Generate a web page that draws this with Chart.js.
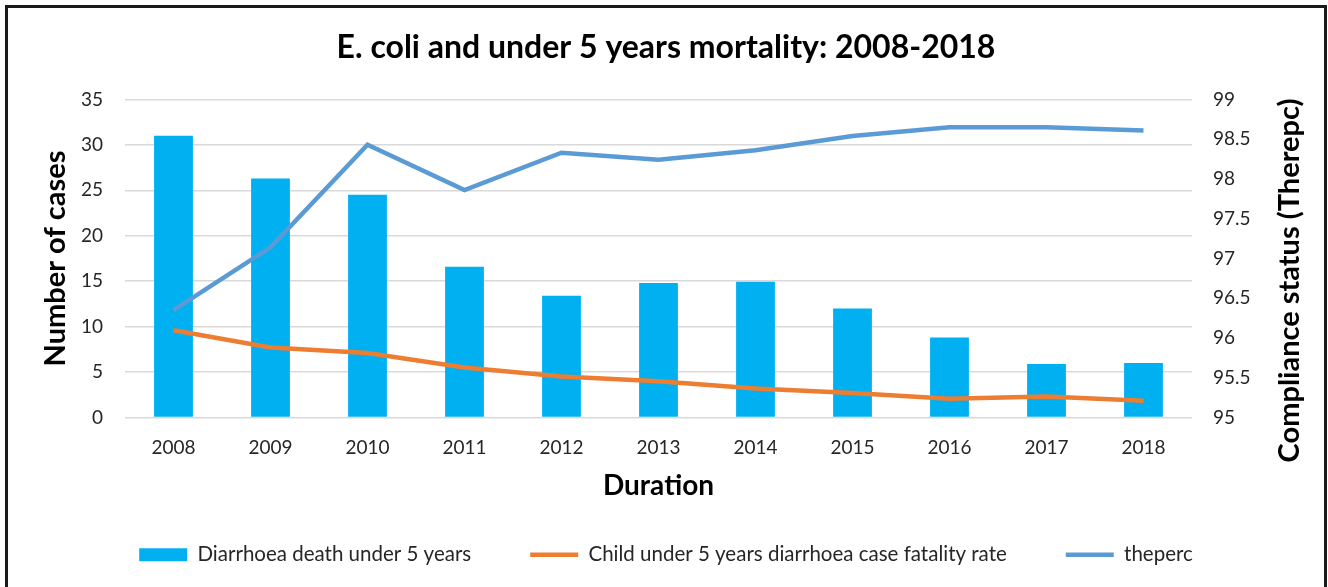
<!DOCTYPE html>
<html>
<head>
    <title>E. coli and under 5 years mortality</title>
    <style>
        body {
            margin: 0;
            background: #ffffff;
            overflow: hidden;
        }

        .frame {
            position: absolute;
            left: 5px;
            top: 5px;
            width: 1316px;
            height: 600px;
            border: 3px solid #1a1a1a;
            background: #ffffff;
        }

        #combo-chart {
            display: block;
        }
    </style>
    <script src="https://cdn.jsdelivr.net/npm/chart.js"></script>
</head>
<body>
    <div class="frame">
        <canvas id="combo-chart" width="1316" height="579"></canvas>
    </div>
    <script>
        const years = ['2008', '2009', '2010', '2011', '2012', '2013', '2014', '2015', '2016', '2017', '2018'];
        const deaths = [31.0, 26.3, 24.5, 16.6, 13.4, 14.8, 14.95, 12.0, 8.8, 5.9, 6.0];
        const fatalityRate = [9.6, 7.7, 7.1, 5.5, 4.5, 4.0, 3.2, 2.7, 2.05, 2.3, 1.85];
        const theperc = [96.35, 97.14, 98.43, 97.86, 98.33, 98.24, 98.36, 98.54, 98.65, 98.65, 98.61];

        const font = "'Lato', 'Open Sans', sans-serif";
        const legendStyles = ['rect', 'line', 'line'];
        const rightTitle = 'Compliance status (Therepc)';

        // right axis title reads bottom-to-top in the original, so draw it ourselves
        const rightTitlePlugin = {
            id: 'rightTitle',
            afterDraw: function(chart) {
                var c = chart.ctx;
                var area = chart.chartArea;
                c.save();
                c.translate(1282, (area.top + area.bottom) / 2 + 22);
                c.rotate(-Math.PI / 2);
                c.textAlign = 'center';
                c.textBaseline = 'middle';
                c.fillStyle = '#000';
                c.font = "bold 29px " + font;
                c.fillText(rightTitle, 0, 0);
                c.restore();
            }
        };

        var ctx = document.getElementById('combo-chart').getContext('2d');
        var chart = new Chart(ctx, {
            type: 'bar',
            data: {
                labels: years,
                datasets: [{
                    label: 'Diarrhoea death under 5 years',
                    data: deaths,
                    backgroundColor: '#00b0f0',
                    borderWidth: 0,
                    barPercentage: 0.4,
                    categoryPercentage: 1,
                    yAxisID: 'y',
                    order: 3
                }, {
                    type: 'line',
                    label: 'Child under 5 years diarrhoea case fatality rate',
                    data: fatalityRate,
                    borderColor: '#ed7d31',
                    backgroundColor: '#ed7d31',
                    borderWidth: 4.5,
                    pointRadius: 0,
                    tension: 0,
                    yAxisID: 'y',
                    order: 2
                }, {
                    type: 'line',
                    label: 'theperc',
                    data: theperc,
                    borderColor: '#5b9bd5',
                    backgroundColor: '#5b9bd5',
                    borderWidth: 4.5,
                    pointRadius: 0,
                    tension: 0,
                    yAxisID: 'y1',
                    order: 1
                }]
            },
            options: {
                responsive: false,
                animation: false,
                layout: {
                    padding: { left: 0, right: 0, top: 0, bottom: 12 }
                },
                scales: {
                    x: {
                        afterFit: function(scale) { scale.height = 68; },
                        grid: { display: false, drawTicks: false },
                        border: { display: false },
                        ticks: { color: '#262626', font: { family: font, size: 19 }, padding: 19 },
                        title: {
                            display: true,
                            text: 'Duration',
                            color: '#000',
                            font: { family: font, size: 28, weight: 'bold' },
                            padding: { top: 0, bottom: -17 }
                        }
                    },
                    y: {
                        position: 'left',
                        min: 0,
                        max: 35,
                        afterFit: function(scale) { scale.width = 117; },
                        ticks: { stepSize: 5, color: '#262626', font: { family: font, size: 19 }, padding: 22 },
                        grid: { color: '#d9d9d9', lineWidth: 1.5, drawTicks: false },
                        border: { display: false },
                        title: {
                            display: true,
                            text: 'Number of cases',
                            color: '#000',
                            font: { family: font, size: 29, weight: 'bold' },
                            padding: { top: 30, bottom: 0 }
                        }
                    },
                    y1: {
                        position: 'right',
                        min: 95,
                        max: 99,
                        afterFit: function(scale) { scale.width = 132; },
                        ticks: {
                            stepSize: 0.5,
                            color: '#262626',
                            font: { family: font, size: 19 },
                            padding: 21,
                            callback: function(value) { return String(Number(value.toFixed(1))); }
                        },
                        grid: { display: false, drawTicks: false },
                        border: { display: false }
                    }
                },
                plugins: {
                    title: {
                        display: true,
                        text: 'E. coli and under 5 years mortality: 2008-2018',
                        color: '#000',
                        font: { family: font, size: 32, weight: 'bold' },
                        padding: { top: 20, bottom: 33 }
                    },
                    legend: {
                        position: 'bottom',
                        labels: {
                            color: '#262626',
                            font: { family: font, size: 20.5 },
                            usePointStyle: true,
                            pointStyleWidth: 48,
                            boxHeight: 13,
                            padding: 59,
                            sort: function(a, b) { return a.datasetIndex - b.datasetIndex; },
                            generateLabels: function(chart) {
                                var items = Chart.defaults.plugins.legend.labels.generateLabels(chart);
                                items.forEach(function(item) {
                                    item.pointStyle = legendStyles[item.datasetIndex];
                                });
                                return items;
                            }
                        }
                    },
                    tooltip: { enabled: false }
                }
            },
            plugins: [rightTitlePlugin]
        });
    </script>
</body>
</html>
